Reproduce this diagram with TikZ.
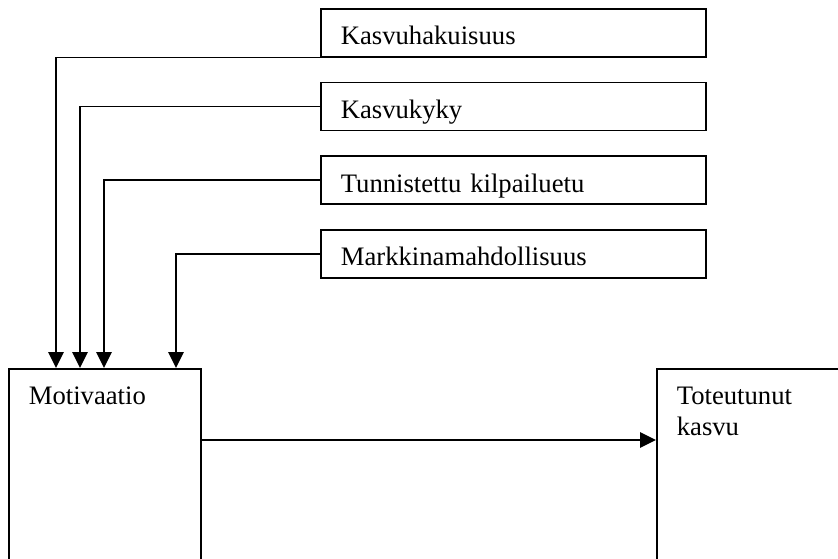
\documentclass[tikz,border=0pt]{standalone}
\usepackage{fontspec}
\setmainfont{Liberation Serif}
\usetikzlibrary{positioning,arrows.meta}
\tikzset{every picture/.style={line width=1.25pt}}

\begin{document}
\begin{tikzpicture}[x=0.75pt,y=0.75pt,yscale=-1,xscale=1,
  factor/.style={draw,anchor=north west,minimum width=288.75pt,text width=258.75pt,align=left,
    inner xsep=15pt,inner ysep=0pt,text height=27pt,text depth=9pt,font=\fontsize{20}{23.25}\selectfont},
  stage/.style={draw,anchor=north west,text width=#1,align=left,
    inner xsep=15pt,inner ysep=0pt,text height=27pt,text depth=138pt,font=\fontsize{20}{23.25}\selectfont},
  feed/.style={-{Triangle[length=12pt,width=11.5pt]}}]
\clip (0,0) rectangle (838,559);

% Factors
\node [factor] (hak) at (320,8) {Kasvuhakuisuus};
\node [factor,below=18pt of hak] (kyky) {Kasvukyky};
\node [factor,below=18pt of kyky] (etu) {Tunnistettu kilpailuetu};
\node [factor,below=18pt of etu] (mark) {Markkinamahdollisuus};

% Motivation and growth
\node [stage=114pt] (mot) at (8,368) {Motivaatio};
\node [stage=135pt] (tot) at (656,368) {Toteutunut\\kasvu};

% Connectors
\draw [feed] (hak.south west) -| ([xshift=36pt]mot.north west);
\draw [feed] (kyky.west) -| ([xshift=54pt]mot.north west);
\draw [feed] (etu.west) -| ([xshift=72pt]mot.north west);
\draw [feed] (mark.west) -| ([xshift=126pt]mot.north west);
\draw [feed] ([yshift=54pt]mot.north east) -- ([yshift=54pt]tot.north west);

\end{tikzpicture}
\end{document}
